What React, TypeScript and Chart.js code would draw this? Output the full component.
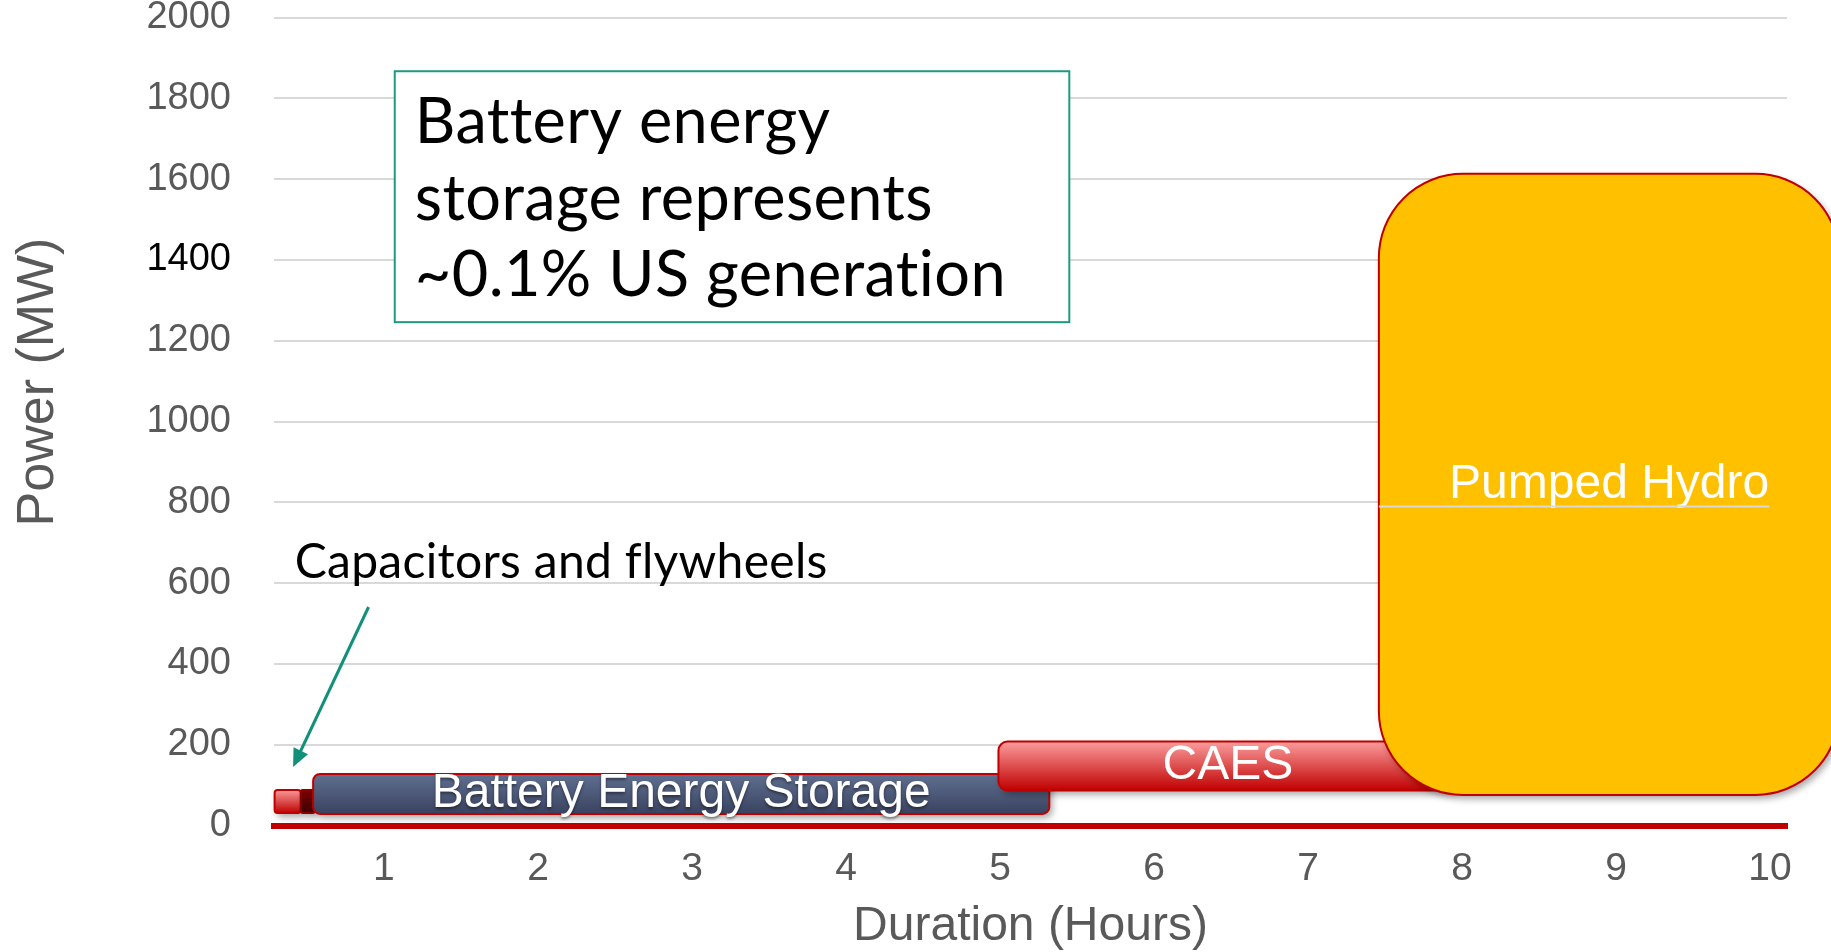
import React, { useEffect, useRef } from "react";
import { Chart, registerables } from "chart.js";

Chart.register(...registerables);

// ---------- data ----------
const durationTicks = [1, 2, 3, 4, 5, 6, 7, 8, 9, 10];
const powerTicks = [0, 200, 400, 600, 800, 1000, 1200, 1400, 1600, 1800, 2000];

const technologies = ["Capacitors", "Flywheels", "Battery Energy Storage", "CAES", "Pumped Hydro"];
const durationFrom = [0.29, 0.46, 0.54, 4.99, 7.46];
const durationTo = [0.46, 0.55, 5.32, 7.97, 10.45];
const powerFrom = [31, 31, 29, 87, 76];
const powerTo = [88, 88, 128, 208, 1613];
const boxLabels = ["", "", "Battery Energy Storage", "CAES", "Pumped Hydro"];

const calloutLines = ["Battery energy", "storage represents", "~0.1% US generation"];
const pointerText = "Capacitors and flywheels";
const xTitle = "Duration (Hours)";
const yTitle = "Power (MW)";

// ---------- styles ----------
const GRAY = "#595959";
const SANS = "'Liberation Sans', Arial, sans-serif";
const HUMAN = "Lato, 'Open Sans', sans-serif";
const boxStyles = [
  { top: "#f79a9a", bottom: "#c00000", border: "#c00000", radius: 3 },
  { top: "#7a0000", bottom: "#3d0000", border: "#8a0000", radius: 2 },
  { top: "#606f90", bottom: "#394360", border: "#c00000", radius: 7 },
  { top: "#fb9d9d", bottom: "#c00000", border: "#c00000", radius: 9 },
  { top: "#ffc000", bottom: "#ffc000", border: "#c00000", radius: 84 },
];

const annotationPlugin = {
  id: "storageBoxes",
  beforeDatasetsDraw(chart: any) {
    const { ctx, scales } = chart;
    const x = scales.x;
    const y = scales.y;
    const px = (v: number) => x.getPixelForValue(v);
    const py = (v: number) => y.getPixelForValue(v);

    // boxes
    technologies.forEach((_, i) => {
      const st = boxStyles[i];
      const x0 = px(durationFrom[i]);
      const x1 = px(durationTo[i]);
      const y0 = py(powerTo[i]);
      const y1 = py(powerFrom[i]);
      ctx.save();
      const g = ctx.createLinearGradient(0, y0, 0, y1);
      g.addColorStop(0, st.top);
      g.addColorStop(1, st.bottom);
      ctx.shadowColor = "rgba(0,0,0,0.35)";
      ctx.shadowBlur = 7;
      ctx.shadowOffsetX = 3;
      ctx.shadowOffsetY = 4;
      ctx.beginPath();
      ctx.roundRect(x0, y0, x1 - x0, y1 - y0, st.radius);
      ctx.fillStyle = g;
      ctx.fill();
      ctx.shadowColor = "transparent";
      ctx.lineWidth = 2;
      ctx.strokeStyle = st.border;
      ctx.stroke();
      ctx.restore();
    });

    // box labels
    technologies.forEach((_, i) => {
      const text = boxLabels[i];
      if (!text) return;
      const cx = px((durationFrom[i] + durationTo[i]) / 2);
      const cy = py((powerFrom[i] + powerTo[i]) / 2);
      ctx.save();
      ctx.font = `48px ${SANS}`;
      ctx.textAlign = "center";
      ctx.textBaseline = "middle";
      ctx.fillStyle = "#ffffff";
      if (i === 2) {
        ctx.shadowColor = "rgba(0,0,0,0.45)";
        ctx.shadowBlur = 3;
        ctx.shadowOffsetY = 2;
      }
      ctx.fillText(text, cx, cy);
      if (i === 4) {
        // gridline showing through the pumped hydro box
        const w = ctx.measureText(text).width;
        ctx.strokeStyle = "#d9d9d9";
        ctx.lineWidth = 2;
        ctx.beginPath();
        ctx.moveTo(px(durationFrom[i]), py(790));
        ctx.lineTo(cx + w / 2, py(790));
        ctx.stroke();
      }
      ctx.restore();
    });

    // callout box
    ctx.save();
    const bx0 = px(1.07);
    const bx1 = px(5.45);
    const by0 = py(1867);
    const by1 = py(1246);
    ctx.fillStyle = "#ffffff";
    ctx.fillRect(bx0, by0, bx1 - bx0, by1 - by0);
    ctx.strokeStyle = "#1f9a82";
    ctx.lineWidth = 2;
    ctx.strokeRect(bx0, by0, bx1 - bx0, by1 - by0);
    ctx.fillStyle = "#000000";
    ctx.font = `63px ${HUMAN}`;
    (ctx as any).letterSpacing = "0.4px";
    ctx.textAlign = "left";
    ctx.textBaseline = "alphabetic";
    calloutLines.forEach((line, k) => {
      ctx.fillText(line, px(1.2), by0 + 72 + k * 76.5);
    });
    ctx.restore();

    // pointer text and arrow
    ctx.save();
    ctx.fillStyle = "#000000";
    ctx.font = `48px ${HUMAN}`;
    (ctx as any).letterSpacing = "0.3px";
    ctx.textAlign = "left";
    ctx.textBaseline = "alphabetic";
    ctx.fillText(pointerText, px(0.42), py(613));
    const ax0 = px(0.9), ay0 = py(541), ax1 = px(0.41), ay1 = py(145);
    const ang = Math.atan2(ay1 - ay0, ax1 - ax0);
    const head = 18;
    ctx.strokeStyle = "#13907a";
    ctx.fillStyle = "#13907a";
    ctx.lineWidth = 3;
    ctx.beginPath();
    ctx.moveTo(ax0, ay0);
    ctx.lineTo(ax1 - Math.cos(ang) * head * 0.8, ay1 - Math.sin(ang) * head * 0.8);
    ctx.stroke();
    ctx.beginPath();
    ctx.moveTo(ax1, ay1);
    ctx.lineTo(ax1 - head * Math.cos(ang) + 8 * Math.sin(ang), ay1 - head * Math.sin(ang) - 8 * Math.cos(ang));
    ctx.lineTo(ax1 - head * Math.cos(ang) - 8 * Math.sin(ang), ay1 - head * Math.sin(ang) + 8 * Math.cos(ang));
    ctx.closePath();
    ctx.fill();
    ctx.restore();

    // y axis title
    ctx.save();
    ctx.translate(39, 382);
    ctx.rotate(-Math.PI / 2);
    ctx.font = `52px ${SANS}`;
    ctx.fillStyle = GRAY;
    ctx.textAlign = "center";
    ctx.textBaseline = "middle";
    ctx.fillText(yTitle, 0, 0);
    ctx.restore();
  },
};

export default function App() {
  const ref = useRef<HTMLCanvasElement | null>(null);

  useEffect(() => {
    if (!ref.current) return;
    const chart = new Chart(ref.current, {
      type: "scatter",
      data: { datasets: [] },
      plugins: [annotationPlugin],
      options: {
        responsive: false,
        animation: false,
        devicePixelRatio: 1,
        layout: { padding: { left: 0, right: 44, top: 17.5, bottom: 0 } },
        plugins: { legend: { display: false }, tooltip: { enabled: false } },
        scales: {
          x: {
            type: "linear",
            min: 0.286,
            max: 10.11,
            afterBuildTicks: (s: any) => {
              s.ticks = durationTicks.map((v) => ({ value: v }));
            },
            afterFit: (s: any) => {
              s.height = 126.4;
              s.paddingLeft = 0;
              s.paddingRight = 0;
            },
            grid: { display: false, drawTicks: false },
            border: { display: true, color: "#c00000", width: 6 },
            ticks: {
              font: { family: SANS, size: 39, lineHeight: 1 },
              color: GRAY,
              padding: 24,
              maxRotation: 0,
              autoSkip: false,
              callback: (v: any) => String(v),
            },
            title: {
              display: true,
              text: xTitle,
              color: GRAY,
              font: { family: SANS, size: 48, lineHeight: 1 },
              padding: { top: 0, bottom: 1 },
            },
          },
          y: {
            type: "linear",
            min: 0,
            max: 2000,
            afterBuildTicks: (s: any) => {
              s.ticks = powerTicks.map((v) => ({ value: v }));
            },
            afterFit: (s: any) => {
              s.width = 274;
              s.paddingTop = 0;
              s.paddingBottom = 0;
            },
            grid: { color: "#d9d9d9", lineWidth: 2, drawTicks: false },
            border: { display: false },
            ticks: {
              font: { family: SANS, size: 38, lineHeight: 0.9 },
              color: (c: any) => (c.tick && c.tick.value === 1400 ? "#000000" : GRAY),
              padding: 43,
              callback: (v: any) => String(v),
            },
          },
        },
      } as any,
    });
    return () => chart.destroy();
  }, []);

  return (
    <div style={{ position: "fixed", left: 0, top: 0, width: 1831, height: 952, background: "#fff" }}>
      <canvas ref={ref} width={1831} height={952} style={{ display: "block" }} />
    </div>
  );
}
